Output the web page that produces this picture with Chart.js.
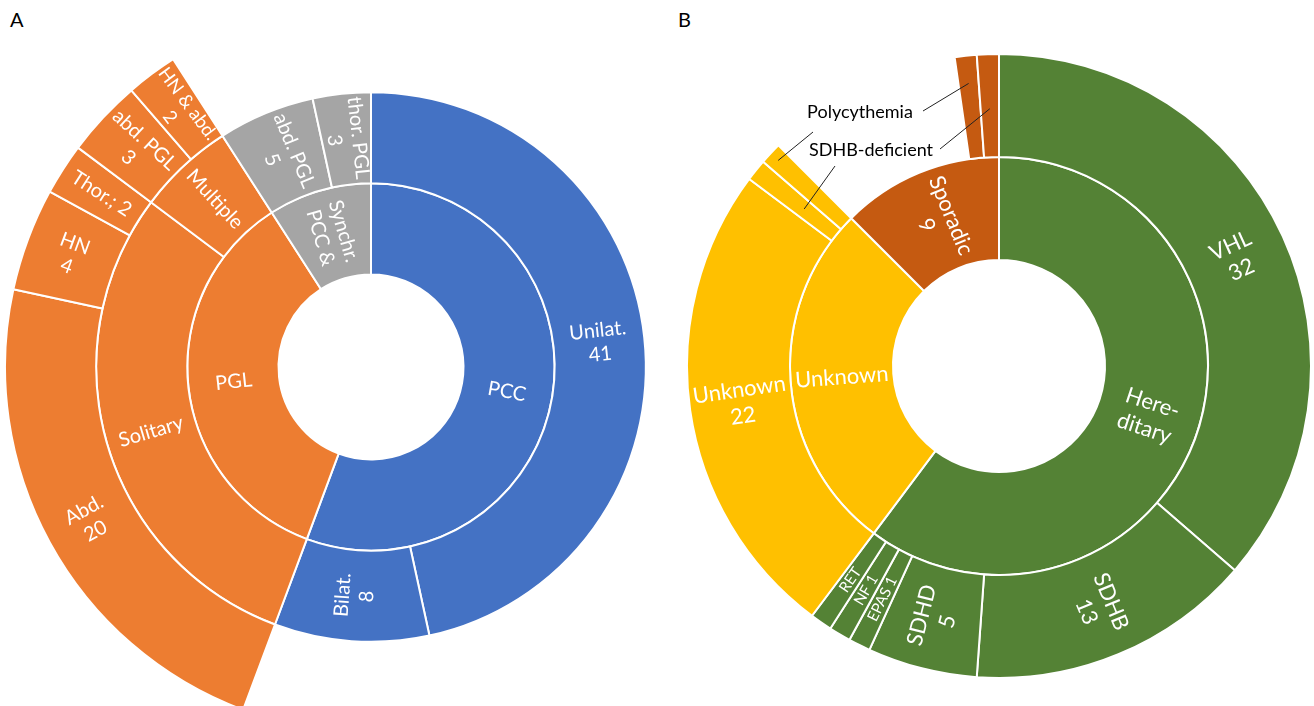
<!DOCTYPE html>
<html>
<head>
<meta charset="utf-8">
<script src="https://cdn.jsdelivr.net/npm/chart.js@4.4.1/dist/chart.umd.min.js"></script>
<style>
  html, body { margin: 0; padding: 0; width: 1314px; height: 706px; overflow: hidden; background: #fff; font-family: Lato, sans-serif; }
  .panel { position: absolute; }
  .tag { position: absolute; font-size: 20px; color: #000; }
</style>
</head>
<body>
<div class="tag" style="left:10px;top:7px">A</div>
<div class="tag" style="left:678px;top:7px">B</div>
<canvas id="chartA" class="panel" width="734" height="734" style="left:4px;top:0px"></canvas>
<canvas id="chartB" class="panel" width="626" height="626" style="left:686px;top:53px"></canvas>
<script>
// panel A: tumour location
const aInnerText = ['PCC', 'PGL', 'Synchr.\nPCC &'];
const aInnerValues = [49, 31, 8];
const aMidText = ['Unilat.\n41', 'Bilat.\n8', 'Solitary', 'Multiple', 'abd. PGL\n5', 'thor. PGL\n3'];
const aMidValues = [41, 8, 26, 5, 5, 3];
const aMidParent = [0, 0, 1, 1, 2, 2];
const aOuterText = ['Abd.\n20', 'HN\n4', 'Thor.; 2', 'abd. PGL\n3', 'HN & abd.\n2'];
const aOuterValues = [20, 4, 2, 3, 2];
const aOuterParent = [2, 2, 2, 3, 3];

// panel B: genetics
const bInnerText = ['Here-\nditary', 'Unknown', 'Sporadic\n9'];
const bInnerValues = [53, 24, 11];
const bOuterNames = ['VHL', 'SDHB', 'SDHD', 'EPAS 1', 'NF 1', 'RET', 'Unknown', 'SDHB-deficient', 'Polycythemia', 'Polycythemia', 'SDHB-deficient'];
const bOuterText = ['VHL\n32', 'SDHB\n13', 'SDHD\n5', 'EPAS 1', 'NF 1', 'RET', 'Unknown\n22', '', '', '', ''];
const bOuterValues = [32, 13, 5, 1, 1, 1, 22, 1, 1, 1, 1];
const bOuterParent = [0, 0, 0, 0, 0, 0, 1, 1, 1, 2, 2];

const aColors = ['#4472C4', '#ED7D31', '#A5A5A5'];
const bColors = ['#548235', '#FFC000', '#C55A11'];

// children of each parent, with an empty gap for whatever the children don't cover
function buildRing(parentValues, parentColors, values, parent, texts, names) {
  const out = { data: [], colors: [], widths: [], texts: [], names: [] };
  parentValues.forEach((pv, p) => {
    const kids = values.map((v, i) => i).filter(i => parent[i] === p);
    const rest = pv - kids.reduce((s, i) => s + values[i], 0);
    if (rest > 0) {
      out.data.push(rest); out.colors.push('rgba(0,0,0,0)'); out.widths.push(0);
      out.texts.push(''); out.names.push('');
    }
    kids.forEach(i => {
      out.data.push(values[i]); out.colors.push(parentColors[p]); out.widths.push(2);
      out.texts.push(texts[i]); out.names.push(names ? names[i] : '');
    });
  });
  return out;
}

function ringDataset(r) {
  return {
    data: r.data, texts: r.texts, names: r.names,
    backgroundColor: r.colors, borderColor: '#ffffff', borderWidth: r.widths,
    hoverOffset: 0, offset: 0
  };
}

const sunLabels = {
  id: 'sunLabels',
  afterDatasetsDraw(chart, args, opts) {
    const ctx = chart.ctx;
    chart.data.datasets.forEach((ds, di) => {
      chart.getDatasetMeta(di).data.forEach((arc, i) => {
        const text = ds.texts[i];
        if (!text) return;
        const p = arc.getProps(['x', 'y', 'startAngle', 'endAngle', 'innerRadius', 'outerRadius'], true);
        const a = (p.startAngle + p.endAngle) / 2;
        const r = (p.innerRadius + p.outerRadius) / 2;
        const lines = text.split('\n');
        const across = (p.endAngle - p.startAngle) * r - 2;
        const along = p.outerRadius - p.innerRadius - 6;
        let size = Math.min(opts.size, across / (lines.length * 1.1));
        ctx.font = size + 'px Lato';
        const w = Math.max(...lines.map(l => ctx.measureText(l).width));
        if (w > along) size = size * along / w;
        let rot = a;
        while (rot > Math.PI / 2) rot -= Math.PI;
        while (rot <= -Math.PI / 2) rot += Math.PI;
        ctx.save();
        ctx.translate(p.x + r * Math.cos(a), p.y + r * Math.sin(a));
        ctx.rotate(rot);
        ctx.font = size + 'px Lato';
        ctx.fillStyle = '#ffffff';
        ctx.textAlign = 'center';
        ctx.textBaseline = 'middle';
        const lh = size * 1.2;
        lines.forEach((ln, k) => ctx.fillText(ln, 0, (k - (lines.length - 1) / 2) * lh));
        ctx.restore();
      });
    });
  }
};

// leader-line labels for the tiny slices in panel B
const callouts = [
  { name: 'Polycythemia', x: -139, y: -254, from: [[-186, -234], [-76, -255]], depth: [0.9, 0.73] },
  { name: 'SDHB-deficient', x: -128, y: -216, from: [[-164, -200], [-59, -217]], depth: [0.4, 0.47] }
];

const calloutPlugin = {
  id: 'callouts',
  afterDatasetsDraw(chart) {
    const ctx = chart.ctx;
    const ds = chart.data.datasets[0];
    const arcs = chart.getDatasetMeta(0).data;
    callouts.forEach(c => {
      const p0 = arcs[0].getProps(['x', 'y'], true);
      ctx.save();
      ctx.font = '18px Lato';
      ctx.fillStyle = '#000';
      ctx.textAlign = 'center';
      ctx.textBaseline = 'middle';
      ctx.fillText(c.name, p0.x + c.x, p0.y + c.y);
      ctx.strokeStyle = '#222';
      ctx.lineWidth = 1;
      let k = 0;
      ds.names.forEach((n, i) => {
        if (n !== c.name) return;
        const p = arcs[i].getProps(['x', 'y', 'startAngle', 'endAngle', 'innerRadius', 'outerRadius'], true);
        const a = (p.startAngle + p.endAngle) / 2;
        const r = p.innerRadius + c.depth[k] * (p.outerRadius - p.innerRadius);
        ctx.beginPath();
        ctx.moveTo(p.x + c.from[k][0], p.y + c.from[k][1]);
        ctx.lineTo(p.x + r * Math.cos(a), p.y + r * Math.sin(a));
        ctx.stroke();
        k++;
      });
      ctx.restore();
    });
  }
};

function sunburst(id, rings, hole, size, extra) {
  return new Chart(document.getElementById(id), {
    type: 'doughnut',
    data: { labels: rings[0].data.map((v, i) => i), datasets: rings.map(ringDataset) },
    options: {
      responsive: false,
      animation: false,
      cutout: hole,
      layout: { padding: 0 },
      plugins: { legend: { display: false }, tooltip: { enabled: false }, sunLabels: { size: size } }
    },
    plugins: [sunLabels].concat(extra || [])
  });
}

// panel A rings, outermost first
const aRing1 = buildRing([88], ['#000'], aInnerValues, [0, 0, 0], aInnerText);
aRing1.colors = aColors.slice();
const aMidColors = aMidParent.map(p => aColors[p]);
const aRing2 = buildRing(aInnerValues, aColors, aMidValues, aMidParent, aMidText);
const aRing3 = buildRing(aMidValues, aMidColors, aOuterValues, aOuterParent, aOuterText);
sunburst('chartA', [aRing3, aRing2, aRing1], 92.5, 20);

// panel B rings, outermost first
const bRing1 = buildRing([88], ['#000'], bInnerValues, [0, 0, 0], bInnerText);
bRing1.colors = bColors.slice();
const bRing2 = buildRing(bInnerValues, bColors, bOuterValues, bOuterParent, bOuterText, bOuterNames);
sunburst('chartB', [bRing2, bRing1], 106, 22, [calloutPlugin]);
</script>
</body>
</html>
